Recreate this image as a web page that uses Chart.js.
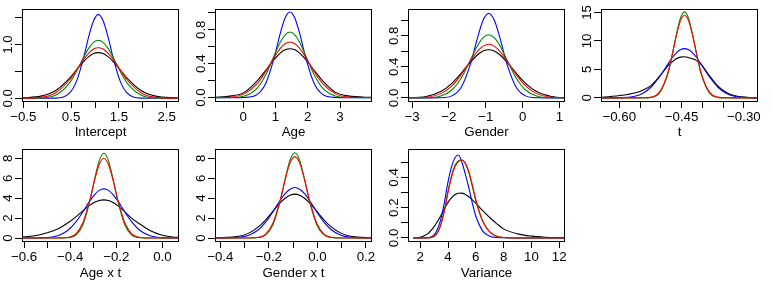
<!DOCTYPE html>
<html lang="en">
<head>
<meta charset="UTF-8">
<title>Posterior densities</title>
<style>
  body { margin: 0; background: #fff; }
  #grid { position: relative; width: 772px; height: 281px; }
  .panel { position: absolute; }
</style>
<script src="https://cdn.jsdelivr.net/npm/chart.js"></script>
</head>
<body>
<div id="grid">
  <canvas id="c1" class="panel" width="193" height="140" style="left:0px;top:0px"></canvas>
  <canvas id="c2" class="panel" width="193" height="140" style="left:193px;top:0px"></canvas>
  <canvas id="c3" class="panel" width="193" height="140" style="left:386px;top:0px"></canvas>
  <canvas id="c4" class="panel" width="193" height="140" style="left:579px;top:0px"></canvas>
  <canvas id="c5" class="panel" width="193" height="141" style="left:0px;top:140px"></canvas>
  <canvas id="c6" class="panel" width="193" height="141" style="left:193px;top:140px"></canvas>
  <canvas id="c7" class="panel" width="193" height="141" style="left:386px;top:140px"></canvas>
</div>
<script>
// ---- Intercept ----
const interceptX = [-0.53, -0.13, 0.17, 0.47, 0.62, 0.77, 0.87, 0.97, 1.07, 1.17, 1.27, 1.37, 1.52, 1.67, 1.97, 2.27, 2.67, 2.8];
const interceptBlack = [0.008, 0.04, 0.14, 0.376, 0.538, 0.693, 0.776, 0.831, 0.85, 0.831, 0.776, 0.693, 0.538, 0.376, 0.14, 0.04, 0.008, 0.004];
const interceptBlue = [0, 0, 0.003, 0.1, 0.333, 0.785, 1.15, 1.44, 1.56, 1.44, 1.15, 0.785, 0.333, 0.1, 0.003, 0, 0, 0];
const interceptGreen = [0, 0.005, 0.055, 0.288, 0.513, 0.776, 0.932, 1.041, 1.08, 1.041, 0.932, 0.776, 0.513, 0.288, 0.055, 0.005, 0, 0];
const interceptRed = [0.001, 0.017, 0.099, 0.345, 0.535, 0.732, 0.841, 0.915, 0.94, 0.915, 0.841, 0.732, 0.535, 0.345, 0.099, 0.017, 0.001, 0];
const interceptXTicks = [-0.5, 0, 0.5, 1, 1.5, 2, 2.5];
const interceptXLabels = ['\u22120.5', '', '0.5', '', '1.5', '', '2.5'];
const interceptYTicks = [0, 0.5, 1, 1.5];
const interceptYLabels = ['0.0', '', '1.0', ''];

// ---- Age ----
const ageX = [-0.95, -0.35, 0.05, 0.45, 0.7, 0.95, 1.15, 1.3, 1.45, 1.6, 1.75, 1.95, 2.2, 2.45, 2.85, 3.25, 4.05];
const ageBlack = [0.002, 0.02, 0.065, 0.203, 0.321, 0.444, 0.525, 0.563, 0.576, 0.563, 0.525, 0.444, 0.321, 0.203, 0.065, 0.02, 0.001];
const ageBlue = [0, 0, 0.002, 0.041, 0.166, 0.453, 0.757, 0.939, 1.01, 0.939, 0.757, 0.453, 0.166, 0.041, 0.002, 0, 0];
const ageGreen = [0, 0.002, 0.019, 0.118, 0.269, 0.484, 0.653, 0.741, 0.773, 0.741, 0.653, 0.484, 0.269, 0.118, 0.019, 0.002, 0];
const ageRed = [0, 0.008, 0.047, 0.17, 0.307, 0.468, 0.58, 0.635, 0.655, 0.635, 0.58, 0.468, 0.307, 0.17, 0.047, 0.008, 0];
const ageXTicks = [0, 1, 2, 3];
const ageXLabels = ['0', '1', '2', '3'];
const smallYTicks = [0, 0.2, 0.4, 0.6, 0.8, 1.0];
const smallYLabels = ['0.0', '', '0.4', '', '0.8', ''];

// ---- Gender ----
const genderX = [-3.22, -2.62, -2.22, -1.92, -1.67, -1.42, -1.22, -1.07, -0.92, -0.77, -0.62, -0.42, -0.17, 0.08, 0.38, 0.78, 1.28];
const genderBlack = [0.001, 0.019, 0.081, 0.186, 0.315, 0.459, 0.556, 0.603, 0.62, 0.603, 0.556, 0.459, 0.315, 0.186, 0.081, 0.019, 0.002];
const genderBlue = [0, 0, 0.002, 0.026, 0.134, 0.429, 0.779, 1.002, 1.09, 1.002, 0.779, 0.429, 0.134, 0.026, 0.002, 0, 0];
const genderGreen = [0, 0.002, 0.024, 0.102, 0.253, 0.484, 0.675, 0.776, 0.813, 0.776, 0.675, 0.484, 0.253, 0.102, 0.024, 0.002, 0];
const genderRed = [0, 0.009, 0.055, 0.154, 0.297, 0.475, 0.603, 0.667, 0.69, 0.667, 0.603, 0.475, 0.297, 0.154, 0.055, 0.009, 0.001];
const genderXTicks = [-3, -2, -1, 0, 1];
const genderXLabels = ['\u22123', '\u22122', '\u22121', '0', '1'];

// ---- t ----
const tX = [-0.643, -0.593, -0.563, -0.543, -0.523, -0.503, -0.483, -0.473, -0.463, -0.453, -0.443, -0.433, -0.423, -0.413, -0.403, -0.383, -0.363, -0.343, -0.323, -0.293, -0.263];
const tBlack = [0.08, 0.45, 0.85, 1.35, 2.2, 3.8, 5.6, 6.3, 6.85, 7.15, 7.23, 7.05, 6.85, 6.5, 5.9, 3.9, 2.1, 1.0, 0.4, 0.1, 0.03];
const tBlue = [0, 0.04, 0.29, 0.82, 1.91, 3.7, 5.92, 7.0, 7.87, 8.45, 8.65, 8.45, 7.87, 7.0, 5.92, 3.7, 1.91, 0.82, 0.29, 0.04, 0];
const tGreen = [0, 0, 0, 0, 0.09, 0.85, 4.2, 7.35, 10.96, 13.94, 15.1, 13.94, 10.96, 7.35, 4.2, 0.85, 0.09, 0, 0, 0, 0];
const tRed = [0, 0, 0, 0.01, 0.13, 1.01, 4.44, 7.45, 10.79, 13.47, 14.5, 13.47, 10.79, 7.45, 4.44, 1.01, 0.13, 0.01, 0, 0, 0];
const tXTicks = [-0.6, -0.55, -0.5, -0.45, -0.4, -0.35, -0.3];
const tXLabels = ['\u22120.60', '', '', '\u22120.45', '', '', '\u22120.30'];
const tYTicks = [0, 5, 10, 15];
const tYLabels = ['0', '5', '10', '15'];

// ---- Age x t ----
const ageTX = [-0.614, -0.554, -0.504, -0.454, -0.414, -0.374, -0.344, -0.314, -0.294, -0.274, -0.254, -0.234, -0.214, -0.194, -0.164, -0.134, -0.094, -0.054, -0.004, 0.046, 0.076];
const ageTBlack = [0.08, 0.22, 0.5, 0.9, 1.45, 2.15, 2.75, 3.3, 3.58, 3.77, 3.83, 3.76, 3.56, 3.25, 2.65, 1.99, 1.35, 0.75, 0.3, 0.1, 0.05];
const ageTBlue = [0, 0.005, 0.04, 0.23, 0.7, 1.65, 2.66, 3.75, 4.36, 4.78, 4.93, 4.78, 4.36, 3.75, 2.66, 1.65, 0.7, 0.23, 0.04, 0.005, 0];
const ageTGreen = [0, 0, 0, 0, 0.03, 0.33, 1.36, 3.77, 5.91, 7.76, 8.5, 7.76, 5.91, 3.77, 1.36, 0.33, 0.03, 0, 0, 0, 0];
const ageTRed = [0, 0, 0, 0, 0.05, 0.45, 1.58, 3.9, 5.81, 7.38, 8.0, 7.38, 5.81, 3.9, 1.58, 0.45, 0.05, 0, 0, 0, 0];
const ageTXTicks = [-0.6, -0.5, -0.4, -0.3, -0.2, -0.1, 0];
const ageTXLabels = ['\u22120.6', '', '\u22120.4', '', '\u22120.2', '', '0.0'];
const eightYTicks = [0, 2, 4, 6, 8];
const eightYLabels = ['0', '2', '4', '6', '8'];

// ---- Gender x t ----
const genderTX = [-0.433, -0.373, -0.323, -0.283, -0.243, -0.213, -0.183, -0.153, -0.133, -0.113, -0.093, -0.073, -0.053, -0.033, -0.003, 0.027, 0.057, 0.097, 0.137, 0.187, 0.227];
const genderTBlack = [0.02, 0.06, 0.18, 0.49, 1.12, 1.83, 2.69, 3.54, 3.99, 4.29, 4.4, 4.29, 3.99, 3.54, 2.69, 1.83, 1.12, 0.49, 0.18, 0.06, 0.02];
const genderTBlue = [0, 0.01, 0.07, 0.28, 0.83, 1.59, 2.64, 3.79, 4.45, 4.9, 5.06, 4.9, 4.45, 3.79, 2.64, 1.59, 0.83, 0.28, 0.07, 0.01, 0];
const genderTGreen = [0, 0, 0, 0, 0.05, 0.31, 1.33, 3.74, 5.93, 7.81, 8.56, 7.81, 5.93, 3.74, 1.33, 0.31, 0.05, 0, 0, 0, 0];
const genderTRed = [0, 0, 0, 0, 0.07, 0.4, 1.5, 3.84, 5.84, 7.51, 8.16, 7.51, 5.84, 3.84, 1.5, 0.4, 0.07, 0, 0, 0, 0];
const genderTXTicks = [-0.4, -0.3, -0.2, -0.1, 0, 0.1, 0.2];
const genderTXLabels = ['\u22120.4', '', '\u22120.2', '', '0.0', '', '0.2'];

// ---- Variance ----
const varX = [1.5, 2.0, 2.5, 3.0, 3.25, 3.5, 3.75, 4.0, 4.25, 4.5, 4.75, 5.0, 5.25, 5.5, 5.75, 6.0, 6.5, 7.0, 7.5, 8.0, 9.0, 10.0, 11.0, 12.5];
const varBlack = [0, 0.005, 0.025, 0.075, 0.11, 0.15, 0.195, 0.235, 0.265, 0.285, 0.295, 0.296, 0.287, 0.272, 0.252, 0.23, 0.18, 0.135, 0.095, 0.06, 0.027, 0.012, 0.005, 0.001];
const varBlue = [0, 0, 0.001, 0.02, 0.06, 0.13, 0.24, 0.37, 0.47, 0.53, 0.548, 0.5, 0.42, 0.33, 0.23, 0.145, 0.045, 0.012, 0.003, 0.001, 0, 0, 0, 0];
const varGreen = [0, 0, 0, 0.012, 0.04, 0.095, 0.19, 0.31, 0.41, 0.48, 0.51, 0.515, 0.49, 0.43, 0.34, 0.245, 0.11, 0.04, 0.012, 0.003, 0, 0, 0, 0];
const varRed = [0, 0, 0, 0.01, 0.035, 0.09, 0.18, 0.3, 0.4, 0.47, 0.505, 0.515, 0.495, 0.44, 0.35, 0.255, 0.11, 0.04, 0.012, 0.003, 0, 0, 0, 0];
const varXTicks = [2, 4, 6, 8, 10, 12];
const varXLabels = ['2', '4', '6', '8', '10', '12'];
const varYTicks = [0, 0.1, 0.2, 0.3, 0.4, 0.5];
const varYLabels = ['0.0', '', '0.2', '', '0.4', ''];

const FONT = '"Liberation Sans", Arial, Helvetica, sans-serif';
const FONT_SIZE = 13.3;
Chart.defaults.font.family = FONT;
Chart.defaults.font.size = FONT_SIZE;
Chart.defaults.color = '#000';

// box around plot region + rotated y labels (R style)
const rFrame = {
    id: 'rFrame',
    afterDraw(chart, args, opts) {
        const ctx = chart.ctx;
        const a = chart.chartArea;
        ctx.save();
        ctx.strokeStyle = '#000';
        ctx.lineWidth = 1;
        ctx.strokeRect(a.left + 0.5, a.top + 0.5, a.right - a.left - 1, a.bottom - a.top);
        const ys = chart.scales.y;
        ctx.fillStyle = '#000';
        ctx.font = FONT_SIZE + 'px ' + FONT;
        ctx.textAlign = 'center';
        ctx.textBaseline = 'alphabetic';
        opts.ticks.forEach((v, i) => {
            if (!opts.labels[i]) return;
            ctx.save();
            ctx.translate(11.5, ys.getPixelForValue(v));
            ctx.rotate(-Math.PI / 2);
            ctx.fillText(opts.labels[i], 0, 0);
            ctx.restore();
        });
        ctx.restore();
    }
};

function pts(xs, ys) {
    return xs.map((x, i) => ({ x: x, y: ys[i] }));
}

function makePanel(id, title, xs, black, blue, green, red, xRange, yRange, xTicks, xLabels, yTicks, yLabels) {
    const canvas = document.getElementById(id);
    return new Chart(canvas, {
        type: 'line',
        data: {
            datasets: [
                { data: pts(xs, black), borderColor: '#000000', order: 3 },
                { data: pts(xs, blue), borderColor: '#0000ff', order: 2 },
                { data: pts(xs, green), borderColor: '#008b00', order: 1 },
                { data: pts(xs, red), borderColor: '#ff0000', order: 0 }
            ]
        },
        options: {
            responsive: false,
            animation: false,
            devicePixelRatio: 1,
            events: [],
            layout: { padding: { top: 9, right: 14, left: 0, bottom: 0 } },
            elements: {
                point: { radius: 0 },
                line: { borderWidth: 1.1, fill: false, cubicInterpolationMode: 'monotone' }
            },
            plugins: {
                legend: { display: false },
                tooltip: { enabled: false },
                rFrame: { ticks: yTicks, labels: yLabels }
            },
            scales: {
                x: {
                    type: 'linear',
                    min: xRange[0],
                    max: xRange[1],
                    afterBuildTicks: s => { s.ticks = xTicks.map(v => ({ value: v })); },
                    afterFit: s => { s.height = canvas.height - 101; },
                    border: { display: false },
                    grid: { drawOnChartArea: false, drawTicks: true, tickLength: 7, tickColor: '#000', color: '#000' },
                    ticks: { autoSkip: false, maxRotation: 0, minRotation: 0, padding: 1, callback: (v, i) => xLabels[i] },
                    title: { display: true, text: title, padding: { top: 0, bottom: 0 }, font: { size: FONT_SIZE, lineHeight: 1.1 } }
                },
                y: {
                    type: 'linear',
                    min: yRange[0],
                    max: yRange[1],
                    afterBuildTicks: s => { s.ticks = yTicks.map(v => ({ value: v })); },
                    afterFit: s => { s.width = 22; },
                    border: { display: false },
                    grid: { drawOnChartArea: false, drawTicks: true, tickLength: 7, tickColor: '#000', color: '#000' },
                    ticks: { display: false }
                }
            }
        },
        plugins: [rFrame]
    });
}

makePanel('c1', 'Intercept', interceptX, interceptBlack, interceptBlue, interceptGreen, interceptRed,
    [-0.527, 2.757], [-0.05, 1.66], interceptXTicks, interceptXLabels, interceptYTicks, interceptYLabels);
makePanel('c2', 'Age', ageX, ageBlack, ageBlue, ageGreen, ageRed,
    [-0.87, 3.99], [-0.04, 1.045], ageXTicks, ageXLabels, smallYTicks, smallYLabels);
makePanel('c3', 'Gender', genderX, genderBlack, genderBlue, genderGreen, genderRed,
    [-3.11, 1.15], [-0.04, 1.145], genderXTicks, genderXLabels, smallYTicks, smallYLabels);
makePanel('c4', 't', tX, tBlack, tBlue, tGreen, tRed,
    [-0.644, -0.266], [-0.55, 15.6], tXTicks, tXLabels, tYTicks, tYLabels);
makePanel('c5', 'Age x t', ageTX, ageTBlack, ageTBlue, ageTGreen, ageTRed,
    [-0.609, 0.072], [-0.3, 8.93], ageTXTicks, ageTXLabels, eightYTicks, eightYLabels);
makePanel('c6', 'Gender x t', genderTX, genderTBlack, genderTBlue, genderTGreen, genderTRed,
    [-0.422, 0.225], [-0.3, 8.93], genderTXTicks, genderTXLabels, eightYTicks, eightYLabels);
makePanel('c7', 'Variance', varX, varBlack, varBlue, varGreen, varRed,
    [1.12, 12.42], [-0.02, 0.5875], varXTicks, varXLabels, varYTicks, varYLabels);
</script>
</body>
</html>
